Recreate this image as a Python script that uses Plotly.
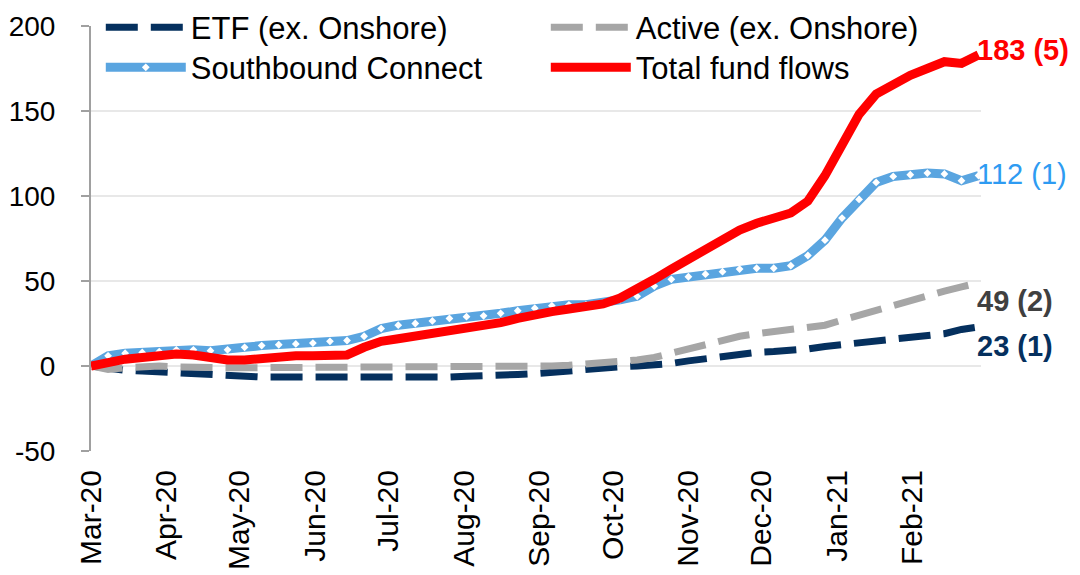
import pandas as pd
import plotly.graph_objects as go

# Weekly observations, Mar-2020 to Feb-2021 (cumulative flows, US$bn)
dates = pd.date_range("2020-03-01", periods=53, freq="7D")
month_ticks = pd.date_range("2020-03-01", "2021-02-01", freq="MS")

etf = [0, -1.5, -2.5, -3, -3.5, -4, -4.5, -5.5, -6.5, -6.5, -6.5, -6.5, -6.5, -7, -7.5, -7.5,
       -7.5, -7.5, -7, -7, -6.5, -6.5, -6, -6, -5.5, -5, -4.5, -3.5, -3, -2, -1, -0.5,
       0, 0.5, 1.5, 3, 4.5, 6, 7, 8, 8.5, 9, 10, 11.5, 12.5, 14, 15, 16, 17, 17.5, 19, 21.5, 23]

active = [0, -2, -1, 0, 0, -0.5, -1, -1, -1, -1, -1, -1, -1, -1, -1, -1,
          -1, -1, -1, -0.5, -0.5, -0.5, -0.5, -0.5, 0, 0, 0, 0, 0.5, 1, 1.5, 2.5,
          3.5, 5, 7.5, 10.5, 13, 15.5, 17.5, 19, 20, 21, 22, 24, 27, 30, 32.5, 35.5, 38.5, 41.5, 44, 46.5, 49]

southbound = [0, 6, 7.5, 8, 8.5, 9.5, 9.5, 9, 9.5, 11, 12, 12.5, 13, 13.5, 14.5, 15,
              17.5, 22, 24, 25, 26.5, 28, 29, 29.5, 31, 32.5, 34, 35.5, 36, 36, 37, 39,
              41, 47, 51, 52.5, 54, 55.5, 57, 57.5, 57.5, 59, 65, 74, 87, 98, 108, 111.5, 112.5, 113.5, 113, 109, 112]

total = [0, 2.5, 4, 5, 6, 7, 6.5, 5, 3.5, 3.5, 4.5, 5.5, 6, 6, 6.5, 6.5,
         11, 14.5, 16, 17.5, 19.5, 21.5, 22.5, 24, 25.5, 28, 30.5, 32, 33.5, 34.5, 36.5, 40,
         45, 51, 57, 63, 69, 75, 80, 84, 87, 90, 97, 112, 130, 148, 160, 166, 171, 175, 179, 178, 183]

series_names = ["ETF (ex. Onshore)", "Active (ex. Onshore)", "Southbound Connect", "Total fund flows"]
end_labels = ["23 (1)", "49 (2)", "112 (1)", "183 (5)"]
end_label_y = [12, 38, 113, 186]

y_tickvals = [-50, 0, 50, 100, 150, 200]
y_ticktext = ["-50", "0", "50", "100", "150", "200"]

x_range = ["2020-03-01", "2021-03-01"]
y_range = [-50, 200]

FONT = "Arial, Liberation Sans, sans-serif"
NAVY = "#05305E"
GREY = "#A6A6A6"
BLUE = "#5AA5E0"
RED = "#FF0000"

fig = go.Figure()
fig.add_trace(go.Scatter(x=dates, y=etf, name=series_names[0], mode="lines", legend="legend",
                         line=dict(color=NAVY, width=7, dash="32px,13px")))
fig.add_trace(go.Scatter(x=dates, y=active, name=series_names[1], mode="lines", legend="legend2",
                         line=dict(color=GREY, width=7, dash="32px,13px")))
fig.add_trace(go.Scatter(x=dates, y=southbound, name=series_names[2], mode="lines+markers",
                         legend="legend3",
                         line=dict(color=BLUE, width=9),
                         marker=dict(symbol="diamond", size=6, color="white",
                                     line=dict(width=0))))
fig.add_trace(go.Scatter(x=dates, y=total, name=series_names[3], mode="lines", legend="legend4",
                         line=dict(color=RED, width=9)))

label_colors = [NAVY, "#404040", "#2E9BF2", RED]
label_weights = ["bold", "bold", "normal", "bold"]
for txt, yv, col, wt in zip(end_labels, end_label_y, label_colors, label_weights):
    fig.add_annotation(x=x_range[1], y=yv, xref="x", yref="y", text=txt, showarrow=False,
                       xanchor="left", yanchor="middle", xshift=-6,
                       font=dict(family=FONT, size=29, color=col, weight=wt))

leg_common = dict(orientation="h", xanchor="left", yanchor="middle", itemwidth=80,
                  bgcolor="rgba(0,0,0,0)", font=dict(size=31, family=FONT, color="black"))

fig.update_layout(
    width=1080, height=575,
    margin=dict(l=83, r=107, t=18, b=132, autoexpand=False),
    paper_bgcolor="white", plot_bgcolor="white",
    font=dict(family=FONT, size=28, color="black"),
    showlegend=True,
    legend=dict(x=0.011, y=0.996, **leg_common),
    legend2=dict(x=0.511, y=0.996, **leg_common),
    legend3=dict(x=0.011, y=0.902, **leg_common),
    legend4=dict(x=0.511, y=0.902, **leg_common),
    xaxis=dict(type="date", range=x_range, tickvals=month_ticks, tickformat="%b-%y",
               tickangle=-90, showgrid=False, showline=False, ticks="", zeroline=False,
               automargin=False,
               tickfont=dict(size=30, family=FONT, color="black"), ticklabelstandoff=12),
    xaxis2=dict(type="date", range=x_range, overlaying="x", anchor="free", position=0.2,
                dtick="M1", tick0="2020-03-01", showticklabels=False, showgrid=False,
                showline=True, linecolor="#A0A0A0", linewidth=2, automargin=False,
                ticks="outside", ticklen=8, tickwidth=2, tickcolor="#A0A0A0", side="bottom"),
    yaxis=dict(range=y_range, tickvals=y_tickvals, ticktext=y_ticktext,
               showgrid=True, gridcolor="#E8E8E8", gridwidth=2,
               zeroline=False, showline=True, linecolor="#A0A0A0", linewidth=2,
               ticks="outside", ticklen=8, tickwidth=2, tickcolor="#A0A0A0", automargin=False,
               tickfont=dict(size=28, family=FONT, color="black"), ticklabelstandoff=20),
)

fig.write_html("out.html")
